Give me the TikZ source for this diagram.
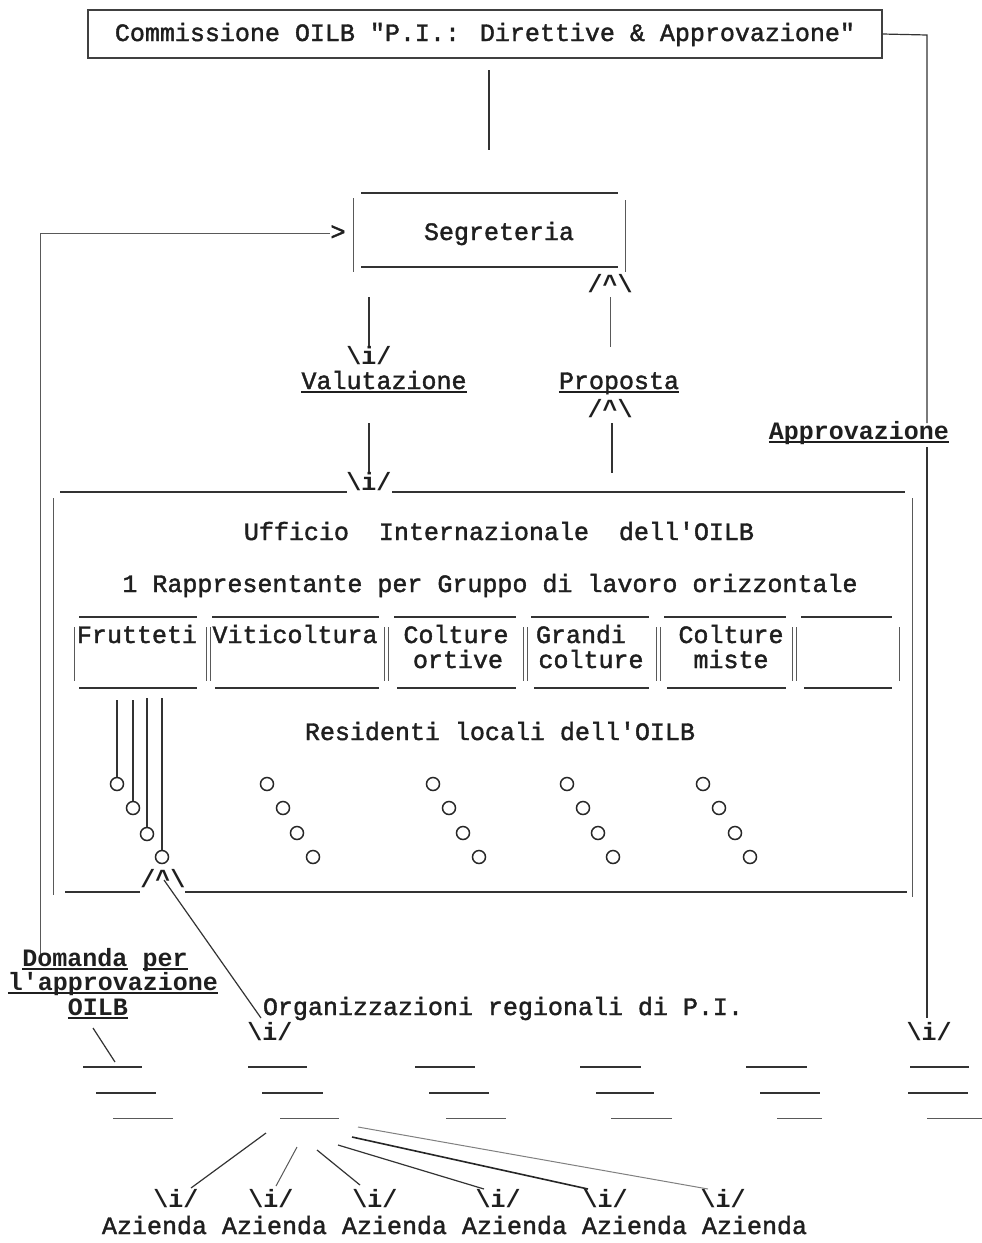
\documentclass[tikz,border=0pt]{standalone}
\usepackage{fontspec}
\setmonofont{Liberation Mono}
\newfontfamily\ttmed[FakeBold=1.6]{Liberation Mono}
\newsavebox\ulbox
\newcommand{\myul}[1]{\sbox\ulbox{#1}\rlap{\rule[-3.5pt]{\wd\ulbox}{1.3pt}}\usebox\ulbox}
\begin{document}
\begin{tikzpicture}[x=1pt,y=-1pt,
  tt/.style={font=\ttmed\fontsize{25}{30}\selectfont, inner sep=0pt, text height=14pt, text depth=0pt, text=black!88},
  ttb/.style={tt, font=\ttfamily\bfseries\fontsize{25}{30}\selectfont},
  ln/.style={line width=1.2pt, draw=black!80},
  lt/.style={line width=1pt, draw=black!65},
  circ/.style={draw=black!85, circle, minimum size=13pt, inner sep=0pt, line width=1.5pt}]
\fill[white] (0,0) rectangle (982,1243);
\useasboundingbox (0,0) rectangle (982,1243);

% Commissione
\node[tt, draw=black!75, line width=1.1pt, minimum width=794pt, minimum height=48pt] (comm) at (485,34)
  {Commissione OILB "P.I.: Direttive \& Approvazione"};
\coordinate (ap2) at (927,35);
\coordinate (ap3) at (927,423);
\coordinate (ap4) at (927,447);
\coordinate (ap5) at (927,1018);
\draw[ln] (comm.east) -- (ap2) -- (ap3);
\draw[ln] (ap4) -- (ap5);
\node[ttb] (approv) at (859,432) {\myul{Approvazione}};
\node[ttb] (arapp) at (929,1033) {\textbackslash i/};

\coordinate (cv1) at (489,70);
\coordinate (cv2) at (489,150);
\draw[ln] (cv1) -- (cv2);

% Segreteria
\node[tt] (segr) at (499,233) {Segreteria};
\draw[ln] (361,193) -- (618,193);
\draw[ln] (361,267) -- (618,267);
\draw[lt] (353,198) -- (353,272);
\draw[lt] (625,200) -- (625,272);

% Domanda loop
\node[tt] (gt) at (338,233) {>};
\coordinate (d0) at (40,955);
\coordinate (d1) at (40,233);
\draw[lt] (d0) -- (d1) -- (gt.west);

% Valutazione
\coordinate (s1) at (369,297);
\coordinate (s2) at (369,347);
\draw[ln] (s1) -- (s2);
\node[ttb] (arv1) at (369,357) {\textbackslash i/};
\node[tt] (valut) at (384,382) {\myul{Valutazione}};
\coordinate (s3) at (369,423);
\coordinate (s4) at (369,473);
\draw[ln] (s3) -- (s4);
\node[ttb] (arv2) at (369,483) {\textbackslash i/};

% Proposta
\node[ttb] (arp1) at (610,285) {/\textasciicircum\textbackslash};
\coordinate (p1) at (610,297);
\coordinate (p2) at (610,347);
\draw[lt] (p1) -- (p2);
\node[tt] (prop) at (619,382) {\myul{Proposta}};
\node[ttb] (arp2) at (610,410) {/\textasciicircum\textbackslash};
\coordinate (p3) at (612,423);
\coordinate (p4) at (612,473);
\draw[ln] (p3) -- (p4);

% Ufficio box
\draw[ln] (60,492) -- (347,492);
\draw[ln] (392,492) -- (905,492);
\draw[lt] (53,498) -- (53,895);
\draw[lt] (912,498) -- (912,897);
\draw[ln] (65,892) -- (140,892);
\draw[ln] (185,892) -- (907,892);
\node[ttb] (arpb) at (163,880) {/\textasciicircum\textbackslash};

\node[tt] (uff) at (499,533) {Ufficio~~Internazionale~~dell'OILB};
\node[tt] (rapp) at (490,585) {1 Rappresentante per Gruppo di lavoro orizzontale};

% table
\foreach \a/\b in {79/197,212/379,394/516,531/649,664/786,801/892}
  \draw[ln] (\a,617) -- (\b,617);
\foreach \a/\b in {79/197,215/379,397/516,534/649,667/786,804/892}
  \draw[ln] (\a,688) -- (\b,688);
\foreach \x in {74,206,210,384,388,523,527,656,660,792,796,899}
  \draw[lt] (\x,627) -- (\x,681);
\node[tt] (frut) at (137,636) {Frutteti};
\node[tt] (viti) at (295,636) {Viticoltura};
\node[tt] (colt1) at (456,636) {Colture};
\node[tt] (ort) at (458,661) {ortive};
\node[tt] (gran) at (581,636) {Grandi};
\node[tt] (colt2) at (591,661) {colture};
\node[tt] (colt3) at (731,636) {Colture};
\node[tt] (mist) at (731,661) {miste};

\node[tt] (resid) at (500,733) {Residenti locali dell'OILB};

% residents
\node[circ] (o11) at (117,784) {};
\node[circ] (o12) at (133,808) {};
\node[circ] (o13) at (147,834) {};
\node[circ] (o14) at (162,857) {};
\coordinate (f1) at (117,700);
\coordinate (f2) at (133,700);
\coordinate (f3) at (147,698);
\coordinate (f4) at (162,698);
\draw[ln] (f1) -- (o11.north);
\draw[ln] (f2) -- (o12.north);
\draw[ln] (f3) -- (o13.north);
\draw[ln] (f4) -- (o14.north);
\foreach \g/\a/\b/\c/\d in {2/267/283/297/313, 3/433/449/463/479, 4/567/583/598/613, 5/703/719/735/750}{
  \node[circ] (o\g1) at (\a,784) {};
  \node[circ] (o\g2) at (\b,808) {};
  \node[circ] (o\g3) at (\c,833) {};
  \node[circ] (o\g4) at (\d,857) {};
}

% Organizzazioni
\node[tt] (org) at (503,1008) {Organizzazioni regionali di P.I.};
\coordinate (dg1) at (164,880);
\coordinate (dg2) at (261,1018);
\draw[ln] (dg1) -- (dg2);
\node[ttb] (arorg) at (270,1033) {\textbackslash i/};

% Domanda
\node[ttb] (dom1) at (105,959) {\myul{Domanda} \myul{per}};
\node[ttb] (dom2) at (113,983) {\myul{l'approvazione}};
\node[ttb] (dom3) at (98,1008) {\myul{OILB}};
\coordinate (dq1) at (93,1028);
\coordinate (dq2) at (115,1062);
\draw[ln] (dq1) -- (dq2);

% dash rows
\foreach \a/\b in {83/142,248/307,415/475,580/641,746/807,910/969}
  \draw[ln] (\a,1067) -- (\b,1067);
\foreach \a/\b in {96/156,262/323,429/489,596/654,760/820,908/968}
  \draw[ln] (\a,1093) -- (\b,1093);
\foreach \a/\b in {113/173,280/339,446/506,611/672,777/822,927/982}
  \draw[lt] (\a,1118) -- (\b,1118);

% Aziende
\foreach \i/\x in {1/176,2/271,3/375,4/498,5/605,6/723}
  \node[ttb] (ai\i) at (\x,1200) {\textbackslash i/};
\foreach \i/\x in {1/154.5,2/274.5,3/394.5,4/514.5,5/634.5,6/754.5}
  \node[tt] (az\i) at (\x,1227) {Azienda};
\coordinate (r1) at (266,1133); \coordinate (e1) at (191,1188);
\coordinate (r2) at (297,1147); \coordinate (e2) at (276,1186);
\coordinate (r3) at (317,1150); \coordinate (e3) at (360,1185);
\coordinate (r4) at (338,1145); \coordinate (e4) at (484,1189);
\coordinate (r5) at (352,1137); \coordinate (e5) at (588,1189);
\coordinate (r6) at (358,1127); \coordinate (e6) at (708,1189);
\draw[ln] (r1) -- (e1);
\draw[lt] (r2) -- (e2);
\draw[ln] (r3) -- (e3);
\draw[ln] (r4) -- (e4);
\draw[line width=1.6pt, draw=black!85] (r5) -- (e5);
\draw[lt, draw=black!50] (r6) -- (e6);
\end{tikzpicture}
\end{document}
